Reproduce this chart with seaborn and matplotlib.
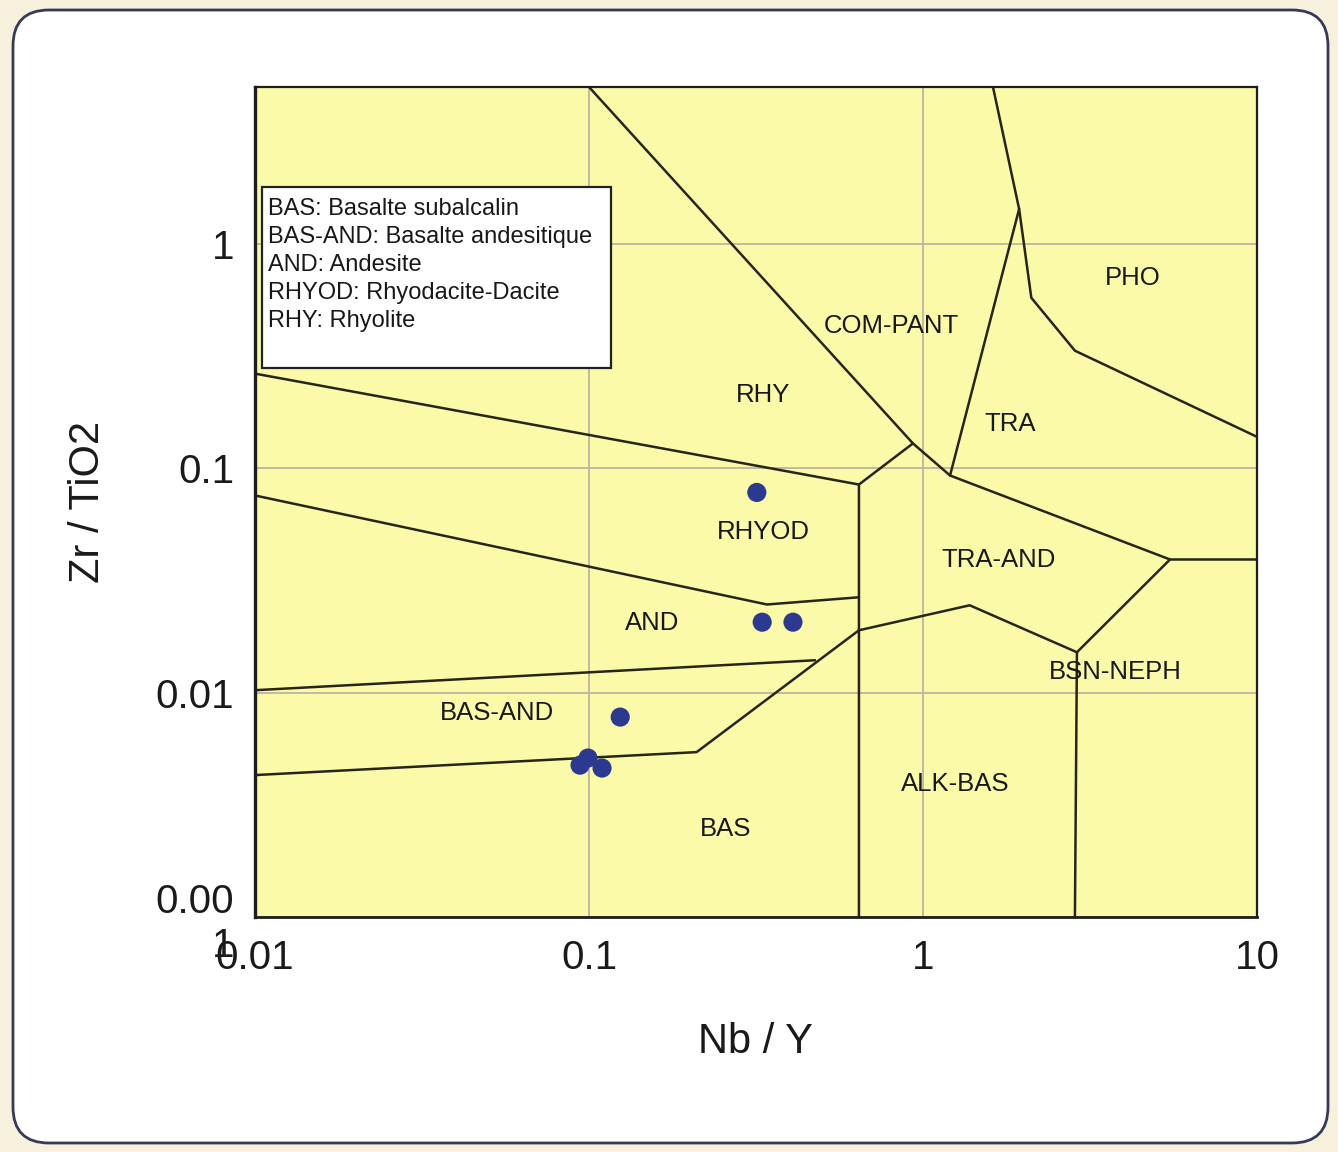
import matplotlib
matplotlib.use("Agg")
import matplotlib.pyplot as plt
import seaborn as sns
from matplotlib.patches import FancyBboxPatch, Rectangle
from matplotlib.transforms import IdentityTransform

# ---- sample compositions ---------------------------------------------------
nb_y = [0.318, 0.330, 0.408, 0.124, 0.094, 0.0993, 0.1094]
zr_tio2 = [0.078, 0.0206, 0.0206, 0.00778, 0.00475, 0.00511, 0.00461]

# ---- field boundaries (Nb/Y, Zr/TiO2) ---------------------------------------
# RHY / COM-PANT, continuing along the top of TRA-AND
rhy_top_x = [0.1, 0.933, 1.205, 5.49, 10.0]
rhy_top_y = [5.0, 0.129, 0.0928, 0.0392, 0.0392]
# COM-PANT base and the ALK-BAS left edge
alk_left_x = [0.933, 0.643, 0.643]
alk_left_y = [0.129, 0.0846, 0.001]
# RHY / RHYOD
rhyod_top_x = [0.01, 0.643]
rhyod_top_y = [0.264, 0.0846]
# RHYOD / AND
and_top_x = [0.01, 0.341, 0.643]
and_top_y = [0.0756, 0.0247, 0.0266]
# AND / BAS-AND
basand_top_x = [0.01, 0.475]
basand_top_y = [0.01025, 0.01394]
# BAS-AND / BAS and the ALK-BAS top
bas_top_x = [0.01, 0.21, 0.643, 1.38, 2.89, 5.49]
bas_top_y = [0.00429, 0.00543, 0.01896, 0.0245, 0.01513, 0.0392]
# BSN-NEPH left edge
bsn_left_x = [2.89, 2.85]
bsn_left_y = [0.01513, 0.001]
# COM-PANT / PHO and PHO / TRA
pho_x = [1.62, 1.94, 2.11, 2.85, 10.0]
pho_y = [5.0, 1.43, 0.575, 0.334, 0.138]
# TRA / COM-PANT
tra_left_x = [1.94, 1.205]
tra_left_y = [1.43, 0.0928]

# ---- field names ------------------------------------------------------------
field_names = ["RHY", "COM-PANT", "PHO", "TRA", "RHYOD", "TRA-AND", "AND",
               "BSN-NEPH", "BAS-AND", "ALK-BAS", "BAS"]
field_x = [0.332, 0.802, 4.25, 1.82, 0.332, 1.68, 0.1545, 3.76, 0.053, 1.247, 0.257]
field_y = [0.211, 0.431, 0.706, 0.158, 0.0518, 0.0388, 0.0204, 0.01232, 0.0081,
           0.00391, 0.00247]

legend_lines = ["BAS: Basalte subalcalin",
                "BAS-AND: Basalte andesitique",
                "AND: Andesite",
                "RHYOD: Rhyodacite-Dacite",
                "RHY: Rhyolite"]

x_ticks = [0.01, 0.1, 1, 10]
x_tick_labels = ["0.01", "0.1", "1", "10"]
y_ticks = [0.001, 0.01, 0.1, 1]
y_tick_labels = ["0.00\n1", "0.01", "0.1", "1"]

# ---- figure -----------------------------------------------------------------
sns.set_style("white")
plt.rcParams["font.family"] = ["Liberation Sans", "DejaVu Sans"]

W, H = 1338, 1152
fig = plt.figure(figsize=(W / 100, H / 100), dpi=100, facecolor="#f6f0dc")
panel = FancyBboxPatch((13, 9), 1315, 1133,
                       boxstyle="round,pad=0,rounding_size=36",
                       transform=IdentityTransform(), facecolor="white",
                       edgecolor="#353a58", linewidth=2.0, zorder=-10)
fig.patches.append(panel)

ax = fig.add_axes([255 / W, 1 - 917 / H, 1002 / W, 830 / H])
ax.set_zorder(1)
ax.set_facecolor("#fafaa9")
ax.set_xscale("log")
ax.set_yscale("log")
ax.set_xlim(0.01, 10)
ax.set_ylim(0.001, 5)

line_kw = dict(sort=False, estimator=None, color="#262518", linewidth=1.8,
               ax=ax, legend=False)
for bx, by in [(rhy_top_x, rhy_top_y), (alk_left_x, alk_left_y),
               (rhyod_top_x, rhyod_top_y), (and_top_x, and_top_y),
               (basand_top_x, basand_top_y), (bas_top_x, bas_top_y),
               (bsn_left_x, bsn_left_y), (pho_x, pho_y),
               (tra_left_x, tra_left_y)]:
    sns.lineplot(x=bx, y=by, **line_kw)

sns.scatterplot(x=nb_y, y=zr_tio2, s=190, color="#2b3990", edgecolor="none",
                zorder=4, ax=ax, legend=False)

for name, fx, fy in zip(field_names, field_x, field_y):
    ax.text(fx, fy, name, fontsize=18.5, ha="center", va="center",
            color="#181818", zorder=5)

# abbreviations box
ax.add_patch(Rectangle((0.007, 0.6614), 0.348, 0.2181, transform=ax.transAxes,
                       facecolor="white", edgecolor="#222222", linewidth=1.6,
                       zorder=6))
for i, line in enumerate(legend_lines):
    ax.text(0.013, 0.853 - i * 0.0337, line, transform=ax.transAxes,
            fontsize=17, ha="left", va="center", color="#181818", zorder=7)

ax.minorticks_off()
ax.set_xticks(x_ticks)
ax.set_xticklabels(x_tick_labels)
ax.set_yticks(y_ticks)
ax.set_yticklabels(y_tick_labels)
ax.tick_params(axis="both", which="major", labelsize=29, length=7, width=2,
               direction="out", color="#1e1e1e", labelcolor="#1a1a1a")
ax.tick_params(axis="x", pad=9)
ax.tick_params(axis="y", pad=8)
ax.grid(True, which="major", color="#bfb4a0", linewidth=1.3)
ax.set_axisbelow(True)

for side, lw in [("left", 2.4), ("bottom", 2.0), ("top", 1.6), ("right", 1.6)]:
    ax.spines[side].set_visible(True)
    ax.spines[side].set_color("#1e1e1e")
    ax.spines[side].set_linewidth(lw)

ax.set_xlabel("Nb / Y", fontsize=30, labelpad=32, color="#1a1a1a")
ax.set_ylabel("Zr / TiO2", fontsize=30, labelpad=34, color="#1a1a1a")

fig.savefig("out.png", dpi=100, facecolor=fig.get_facecolor())
